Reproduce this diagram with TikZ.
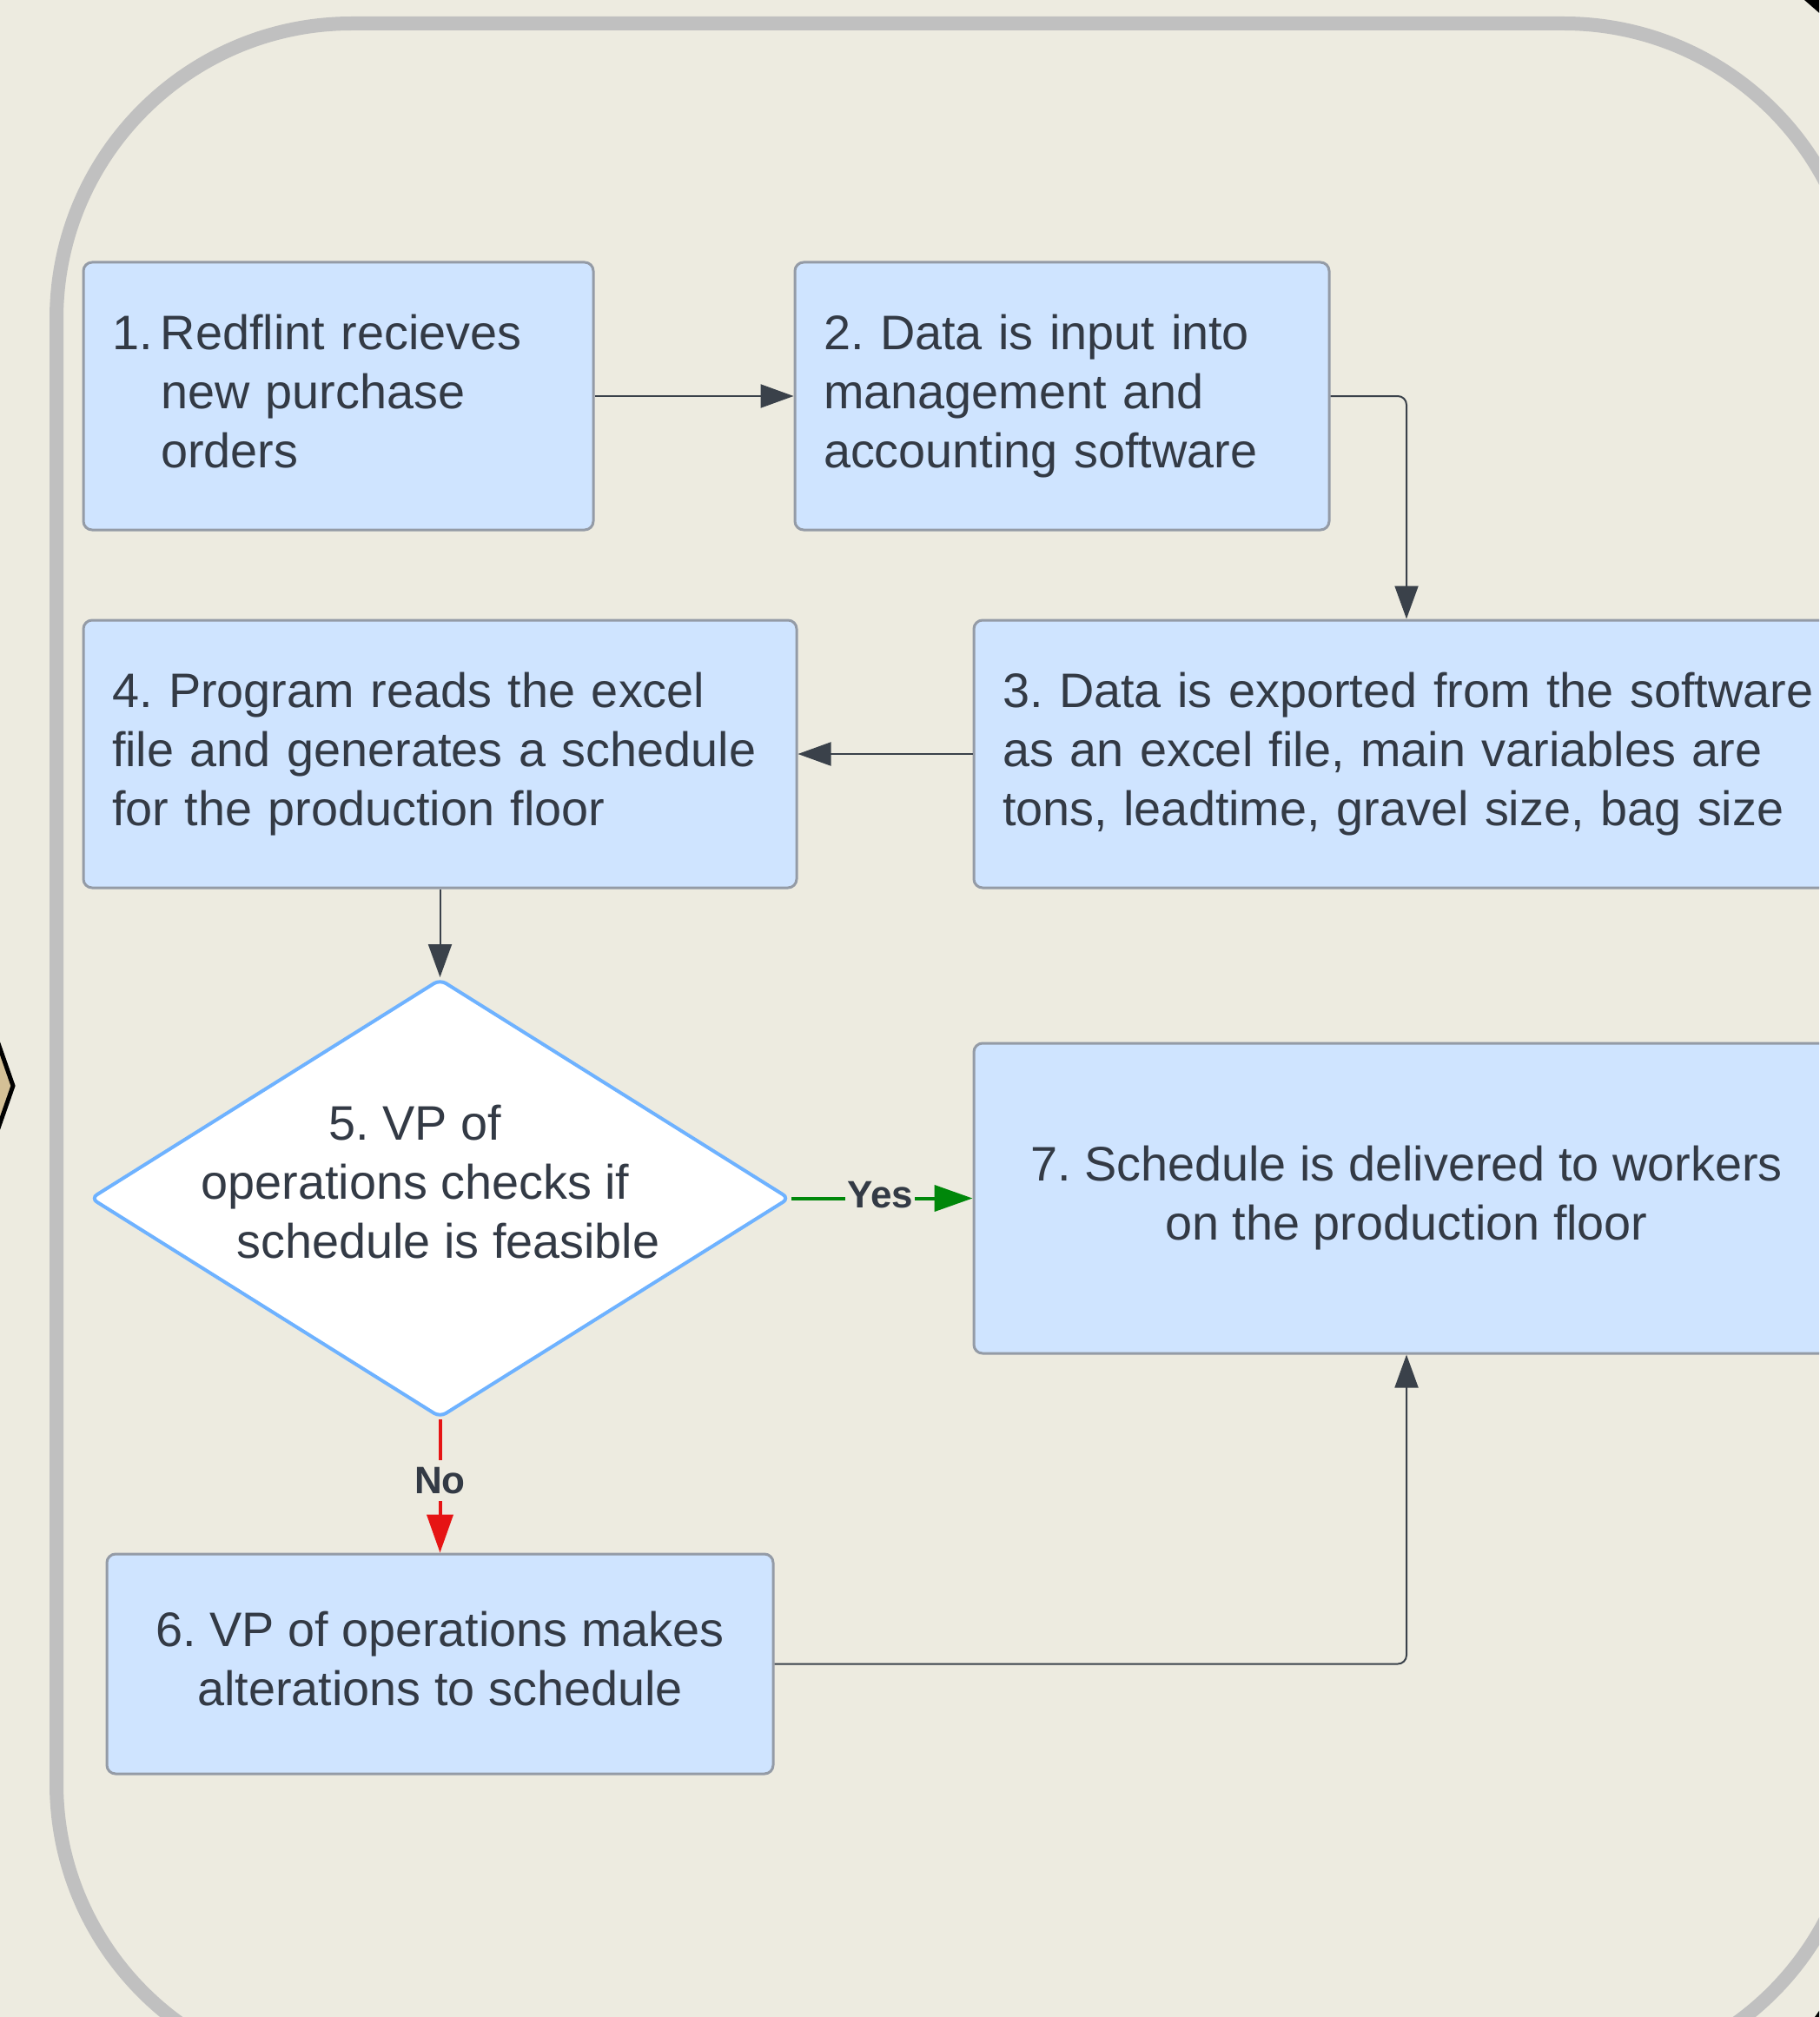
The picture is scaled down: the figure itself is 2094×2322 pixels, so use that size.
\documentclass[tikz,border=0pt]{standalone}
\usepackage{fontspec}
\setmainfont{Liberation Sans}
\usetikzlibrary{arrows.meta,shapes.geometric}
\definecolor{bg}{RGB}{237,235,224}
\definecolor{framec}{RGB}{192,192,192}
\definecolor{boxfill}{RGB}{207,228,255}
\definecolor{boxline}{RGB}{148,155,166}
\definecolor{txt}{RGB}{51,58,69}
\definecolor{connc}{RGB}{58,65,74}
\definecolor{dialine}{RGB}{110,178,255}
\definecolor{yesg}{RGB}{0,135,10}
\definecolor{nor}{RGB}{230,20,20}
\definecolor{tanc}{RGB}{212,192,150}
\newcommand\mainfs{\frenchspacing\fontsize{27.9pt}{34pt}\selectfont}
\begin{document}
\begin{tikzpicture}[x=0.5pt,y=-0.5pt,
  stepbox/.style={draw=boxline, fill=boxfill, line width=1.5pt, rounded corners=5pt,
    text=txt, font=\mainfs, inner ysep=0pt, anchor=center},
  leftbox/.style={stepbox, align=left, inner xsep=16.5pt},
  centbox/.style={stepbox, align=center, inner xsep=0pt},
  conn/.style={draw=connc, line width=1pt, -{Triangle[length=19pt,width=13.5pt]}},
  yesarrow/.style={draw=yesg, line width=2pt, -{Triangle[length=22pt,width=15pt]}},
  noarrow/.style={draw=nor, line width=2pt, -{Triangle[length=22pt,width=15pt]}},
  lbl/.style={fill=bg, text=txt, font=\bfseries\fontsize{22pt}{25pt}\selectfont, inner xsep=1pt, inner ysep=4pt}
]
\useasboundingbox (0,0) rectangle (2094,2322);
\clip (0,0) rectangle (2094,2322);
\fill[bg] (0,0) rectangle (2094,2322);
% outside shapes
\draw[fill=tanc, line width=2.5pt] (-40,1092) -- (15,1250) -- (-40,1408) -- cycle;
\fill[black] (2077,0) -- (2100,0) -- (2100,20) -- cycle;
\fill[black] (2089,2322) -- (2096,2312) -- (2096,2322) -- cycle;
% frame
\draw[framec, line width=8pt, rounded corners=170pt] (65,27) rectangle (2140,2393);
% boxes
\node[leftbox, text width=260.5pt, minimum height=154pt] (b1) at (389.5,456)
  {\makebox[28pt][l]{1.}Redflint recieves\\\hspace*{28pt}new purchase\\\hspace*{28pt}orders\vphantom{g}};
\node[leftbox, text width=274.5pt, minimum height=154pt] (b2) at (1222.5,456)
  {\mbox{2. Data is input into}\\\mbox{management and}\\\mbox{accounting software}};
\node[leftbox, text width=465pt, minimum height=154pt] (b3) at (1619,868)
  {\mbox{3. Data is exported from the software}\\\mbox{as an excel file, main variables are}\\\mbox{tons, leadtime, gravel size, bag size}};
\node[leftbox, text width=377.5pt, minimum height=154pt] (b4) at (506.5,868)
  {\mbox{4. Program reads the excel}\\\mbox{file and generates a schedule}\\\mbox{for the production floor}};
\node[diamond, draw=dialine, fill=white, line width=2pt, rounded corners=4pt,
  minimum width=402.5pt, minimum height=252.5pt, inner sep=0pt] (d5) at (506.5,1379.5) {};
\node[text=txt, font=\mainfs, align=center, inner sep=0pt] (d5t) at (478,1361)
  {5. VP of\\operations checks if\\\hspace*{38pt}schedule is feasible};
\node[centbox, minimum width=498pt, minimum height=178.5pt] (b7) at (1619,1379.5)
  {7. Schedule is delivered to workers\\on the production floor};
\node[centbox, minimum width=383.5pt, minimum height=126.5pt] (b6) at (506.5,1915.5)
  {6. VP of operations makes\\alterations to schedule\vphantom{g}};
% connectors
\draw[conn] (b1.east) -- (b2.west);
\draw[conn, rounded corners=5pt] (b2.east) -| (b3.north);
\draw[conn] (b3.west) -- (b4.east);
\draw[conn] (b4.south) -- (d5.north);
\draw[yesarrow] (d5.east) -- node[lbl, pos=0.49, yshift=2pt] (ly) {Yes} (b7.west);
\draw[noarrow] (d5.south) -- node[lbl, pos=0.46] (ln) {No} (b6.north);
\draw[conn, rounded corners=5pt] (b6.east) -| (b7.south);
\end{tikzpicture}
\end{document}
